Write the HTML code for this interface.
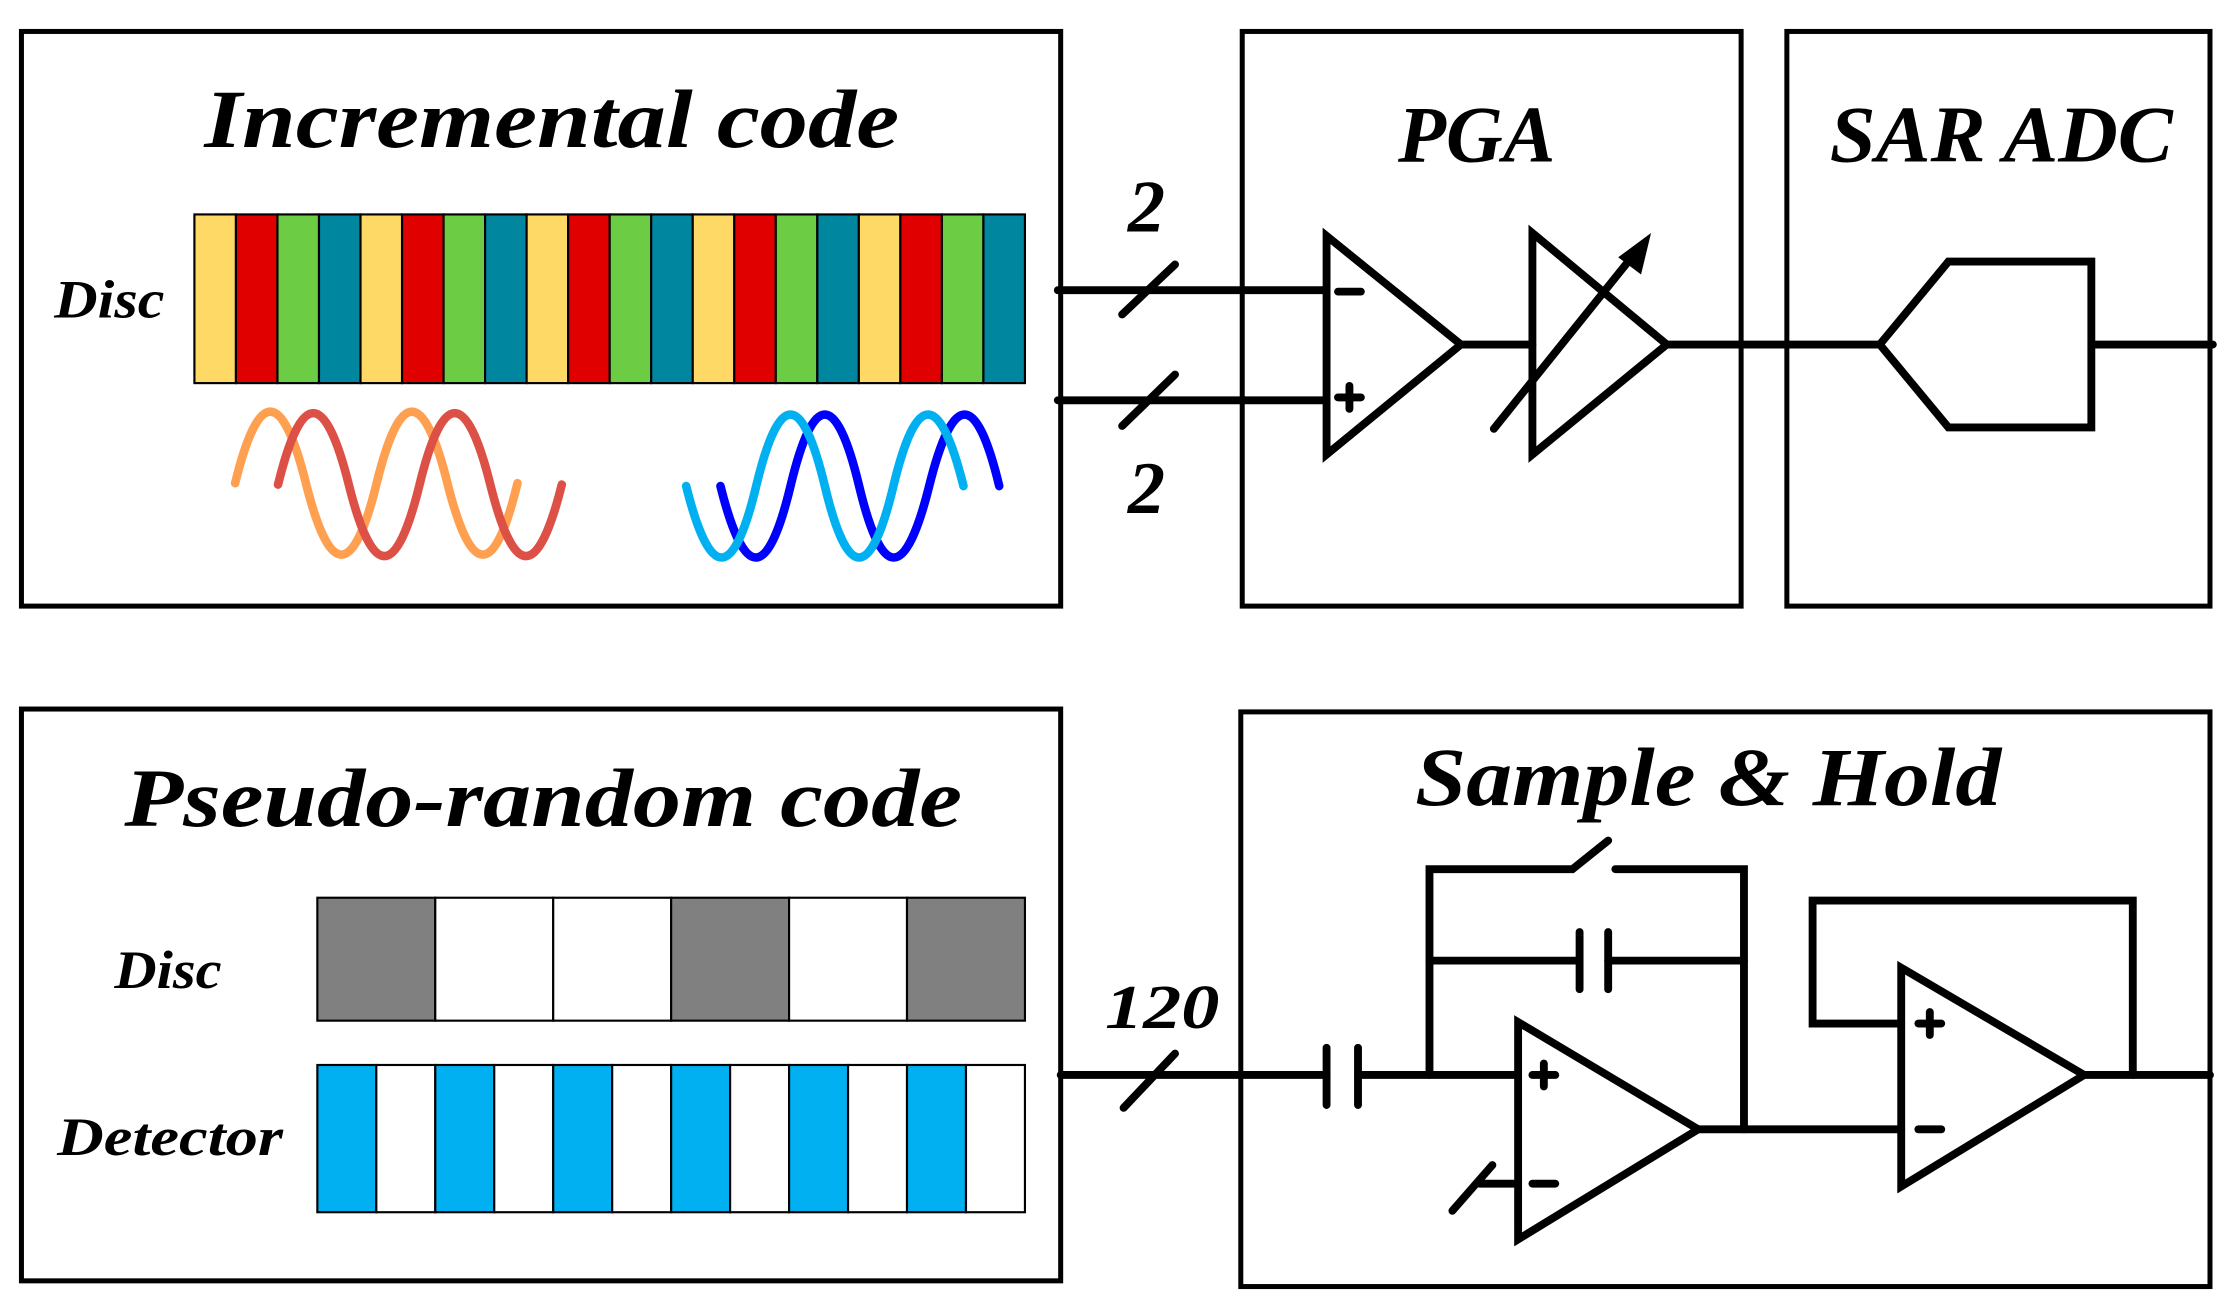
<!DOCTYPE html>
<html><head><style>html,body{margin:0;padding:0;background:#fff}svg{display:block}</style></head>
<body>
<svg width="2230" height="1310" viewBox="0 0 1560 916.4" preserveAspectRatio="none" xmlns="http://www.w3.org/2000/svg">
<g fill="none" stroke="#000" stroke-width="3.5">
<rect x="15" y="22" width="727" height="402"/>
<rect x="869" y="22" width="349" height="402"/>
<rect x="1250" y="22" width="296" height="402"/>
<rect x="15" y="496" width="727" height="400"/>
<rect x="868" y="498" width="678" height="402"/>
</g>
<g font-family="Liberation Serif, serif" font-style="italic" font-weight="bold" fill="#000" lengthAdjust="spacingAndGlyphs">
<text x="143" y="103" font-size="58" textLength="486" lengthAdjust="spacingAndGlyphs">Incremental code</text>
<text x="978" y="113" font-size="56" textLength="110" lengthAdjust="spacingAndGlyphs">PGA</text>
<text x="1280" y="113" font-size="56" textLength="240" lengthAdjust="spacingAndGlyphs">SAR ADC</text>
<text x="87" y="578" font-size="58" textLength="586" lengthAdjust="spacingAndGlyphs">Pseudo-random code</text>
<text x="990" y="563" font-size="58" textLength="410" lengthAdjust="spacingAndGlyphs">Sample &amp; Hold</text>
<text x="38" y="222" font-size="38" textLength="77" lengthAdjust="spacingAndGlyphs">Disc</text>
<text x="80" y="691" font-size="38" textLength="75" lengthAdjust="spacingAndGlyphs">Disc</text>
<text x="40" y="808" font-size="38" textLength="158" lengthAdjust="spacingAndGlyphs">Detector</text>
<text x="789" y="162" font-size="52">2</text>
<text x="789" y="359" font-size="52">2</text>
<text x="773" y="719" font-size="44" textLength="80" lengthAdjust="spacingAndGlyphs">120</text>
</g>
<g stroke="#000" stroke-width="1.5">
<rect x="136" y="150" width="29.05" height="118" fill="#FFD966"/>
<rect x="165.05" y="150" width="29.05" height="118" fill="#E00000"/>
<rect x="194.1" y="150" width="29.05" height="118" fill="#6CCC44"/>
<rect x="223.15" y="150" width="29.05" height="118" fill="#00869E"/>
<rect x="252.2" y="150" width="29.05" height="118" fill="#FFD966"/>
<rect x="281.25" y="150" width="29.05" height="118" fill="#E00000"/>
<rect x="310.3" y="150" width="29.05" height="118" fill="#6CCC44"/>
<rect x="339.35" y="150" width="29.05" height="118" fill="#00869E"/>
<rect x="368.4" y="150" width="29.05" height="118" fill="#FFD966"/>
<rect x="397.45" y="150" width="29.05" height="118" fill="#E00000"/>
<rect x="426.5" y="150" width="29.05" height="118" fill="#6CCC44"/>
<rect x="455.55" y="150" width="29.05" height="118" fill="#00869E"/>
<rect x="484.6" y="150" width="29.05" height="118" fill="#FFD966"/>
<rect x="513.65" y="150" width="29.05" height="118" fill="#E00000"/>
<rect x="542.7" y="150" width="29.05" height="118" fill="#6CCC44"/>
<rect x="571.75" y="150" width="29.05" height="118" fill="#00869E"/>
<rect x="600.8" y="150" width="29.05" height="118" fill="#FFD966"/>
<rect x="629.85" y="150" width="29.05" height="118" fill="#E00000"/>
<rect x="658.9" y="150" width="29.05" height="118" fill="#6CCC44"/>
<rect x="687.95" y="150" width="29.05" height="118" fill="#00869E"/>
<rect x="222" y="628" width="82.5" height="86" fill="#808080"/>
<rect x="304.5" y="628" width="82.5" height="86" fill="#fff"/>
<rect x="387" y="628" width="82.5" height="86" fill="#fff"/>
<rect x="469.5" y="628" width="82.5" height="86" fill="#808080"/>
<rect x="552" y="628" width="82.5" height="86" fill="#fff"/>
<rect x="634.5" y="628" width="82.5" height="86" fill="#808080"/>
<rect x="222" y="745" width="41.25" height="103" fill="#00B0F0"/>
<rect x="263.25" y="745" width="41.25" height="103" fill="#fff"/>
<rect x="304.5" y="745" width="41.25" height="103" fill="#00B0F0"/>
<rect x="345.75" y="745" width="41.25" height="103" fill="#fff"/>
<rect x="387" y="745" width="41.25" height="103" fill="#00B0F0"/>
<rect x="428.25" y="745" width="41.25" height="103" fill="#fff"/>
<rect x="469.5" y="745" width="41.25" height="103" fill="#00B0F0"/>
<rect x="510.75" y="745" width="41.25" height="103" fill="#fff"/>
<rect x="552" y="745" width="41.25" height="103" fill="#00B0F0"/>
<rect x="593.25" y="745" width="41.25" height="103" fill="#fff"/>
<rect x="634.5" y="745" width="41.25" height="103" fill="#00B0F0"/>
<rect x="675.75" y="745" width="41.25" height="103" fill="#fff"/>
</g>
<g fill="none" stroke-width="6" stroke-linecap="round">
<path d="M164.5,338 Q189,238 214,338 T263.5,338 T313,338 T362,338" stroke="#FF9F50"/>
<path d="M194.5,339 Q219,239 244,339 T293.5,339 T343,339 T393,339" stroke="#DC5045"/>
<path d="M504,340 Q529,440 553,340 T601,340 T650,340 T699,340" stroke="#0000FF"/>
<path d="M480,340 Q505,440 529,340 T577,340 T625,340 T674,340" stroke="#00B0F0"/>
</g>
<g fill="none" stroke="#000" stroke-width="5.5" stroke-linecap="round" stroke-linejoin="miter">
<line x1="740" y1="203" x2="928" y2="203"/>
<line x1="740" y1="280" x2="928" y2="280"/>
<line x1="785" y1="220" x2="822" y2="185"/>
<line x1="785" y1="298" x2="822" y2="262"/>
<polygon points="928,165 928,318 1022,241"/>
<line x1="936" y1="204" x2="952" y2="204"/>
<line x1="936" y1="278" x2="952" y2="278"/><line x1="944" y1="270" x2="944" y2="286"/>
<line x1="1022" y1="241" x2="1072" y2="241"/>
<polygon points="1072,163 1072,318 1166,241"/>
<line x1="1045" y1="300" x2="1143" y2="178"/>
<line x1="1166" y1="241" x2="1315" y2="241"/>
<polygon points="1315,241 1363,183 1463,183 1463,299 1363,299"/>
<line x1="1463" y1="241" x2="1548" y2="241"/>

<line x1="742" y1="752" x2="928" y2="752"/>
<line x1="786" y1="775" x2="822" y2="737"/>
<line x1="928" y1="733" x2="928" y2="773"/>
<line x1="950" y1="733" x2="950" y2="773"/>
<line x1="950" y1="752" x2="1062" y2="752"/>
<polyline points="1000,752 1000,608 1100,608 1125,588"/>
<polyline points="1130,608 1220,608 1220,790"/>
<line x1="1000" y1="672" x2="1105" y2="672"/>
<line x1="1105" y1="652" x2="1105" y2="692"/>
<line x1="1125" y1="652" x2="1125" y2="692"/>
<line x1="1125" y1="672" x2="1220" y2="672"/>
<polygon points="1062,715 1062,867 1188,790"/>
<line x1="1072" y1="752" x2="1088" y2="752"/><line x1="1080" y1="744" x2="1080" y2="760"/>
<line x1="1072" y1="828" x2="1088" y2="828"/>
<line x1="1016" y1="847" x2="1044" y2="815"/>
<line x1="1035" y1="828" x2="1062" y2="828"/>
<line x1="1188" y1="790" x2="1330" y2="790"/>
<polygon points="1330,677 1330,830 1458,752"/>
<line x1="1342" y1="716" x2="1358" y2="716"/><line x1="1350" y1="708" x2="1350" y2="724"/>
<line x1="1342" y1="790" x2="1358" y2="790"/>
<polyline points="1330,716 1268,716 1268,630 1492,630 1492,752"/>
<line x1="1458" y1="752" x2="1546" y2="752"/>
</g>
<polygon points="1155,163 1132,180 1148,192" fill="#000"/>
</svg>
</body></html>
